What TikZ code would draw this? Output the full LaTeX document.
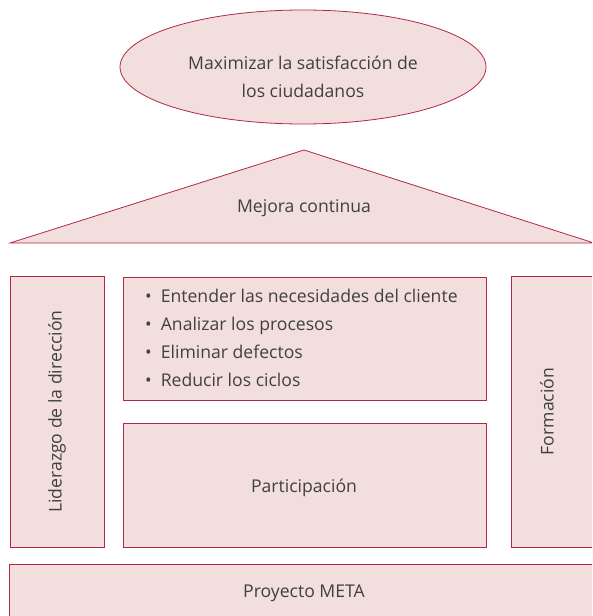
\documentclass[tikz,border=0pt]{standalone}
\usepackage{fontspec}
\setmainfont{Open Sans}
\usepackage{tikz}
\usetikzlibrary{shapes.geometric}
\definecolor{rosefill}{HTML}{F2DEDD}
\definecolor{roseline}{HTML}{B0284C}
\definecolor{textgray}{HTML}{404040}
\tikzstyle{every node}=[font=\fontsize{17.6}{28}\selectfont,text=textgray]
\tikzstyle{goal}=[ellipse,
                  draw=roseline,
                  line width=.8pt,
                  fill=rosefill,
                  minimum width=366pt,
                  minimum height=114pt]
\tikzstyle{block}=[rectangle,
                   draw=roseline,
                   line width=.8pt,
                   fill=rosefill,
                   inner sep=0pt]
\tikzstyle{pillar}=[block,
                    minimum width=271pt,
                    rotate=90]
\begin{document}
\begin{tikzpicture}[x=1pt,y=-1pt]
\useasboundingbox (0,0) rectangle (592,616);
\clip (0,0) rectangle (592,616);
\node (goal)   [goal] at (303,67) {};
\node (goaltext) [align=center] at (303,77) {Maximizar la satisfacción de\\los ciudadanos};
 \draw[draw=roseline,line width=.8pt,fill=rosefill] (10,243) -- (304,150) -- (594,243) -- cycle;
 \node (roof)   at (304,208) {Mejora continua};
 \node (lead)   [pillar,minimum height=94pt] at (57,411.5) {Liderazgo de la dirección};
 \node (train)  [pillar,minimum height=90pt] at (556,411.5) {\hspace*{0pt}};
 \node (trainlabel) [rotate=90] at (547,411.5) {Formación};
 \node (tasks)  [block,minimum width=363pt,minimum height=123pt] at (304.5,338.5) {};
 \node (part)   [block,minimum width=363pt,minimum height=124pt] at (304.5,485) {};
 \node (partlabel) at (304,488) {Participación};
 \node (base)   [block,minimum width=592pt,minimum height=62pt] at (305,595) {};
 \node (baselabel) at (304,593) {Proyecto META};
 \node (list)   [anchor=north west,align=left,inner sep=0pt] at (145,289)
   {\textbullet\hspace{9pt}Entender las necesidades del cliente\\
    \textbullet\hspace{9pt}Analizar los procesos\\
    \textbullet\hspace{9pt}Eliminar defectos\\
    \textbullet\hspace{9pt}Reducir los ciclos};
 \end{tikzpicture}
\end{document}
